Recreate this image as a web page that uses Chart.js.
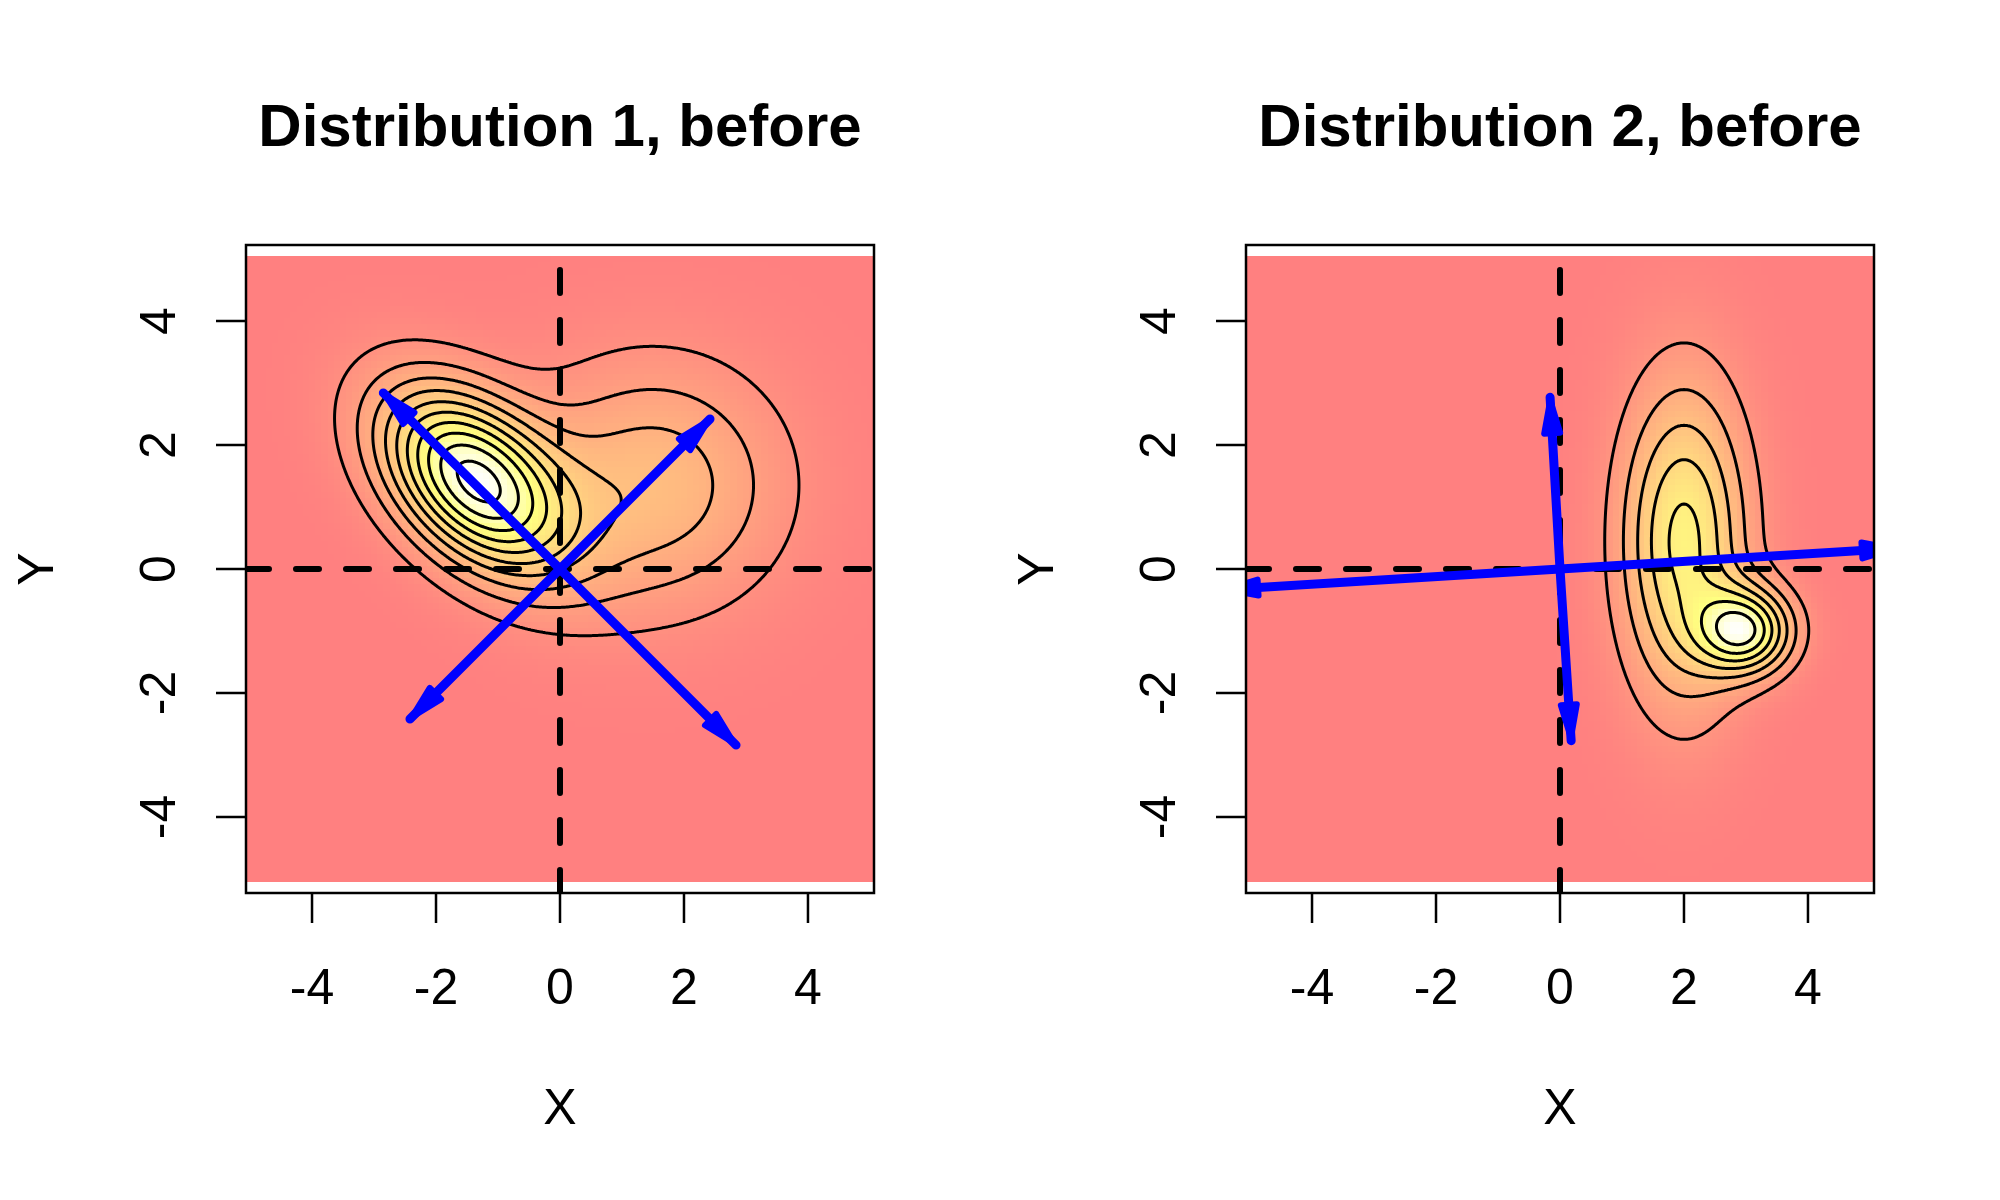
<!DOCTYPE html>
<html><head><meta charset="utf-8">
<script src="https://cdn.jsdelivr.net/npm/chart.js@4.4.1/dist/chart.umd.min.js"></script>
<style>
html,body{margin:0;padding:0;background:#fff;}
#wrap{position:relative;width:2000px;height:1200px;background:#fff;}
.pane{position:absolute;top:0;width:1000px;height:1200px;}
</style></head><body>
<div id="wrap">
  <div class="pane" style="left:0"><canvas id="c1" width="1000" height="1200"></canvas></div>
  <div class="pane" style="left:1000px"><canvas id="c2" width="1000" height="1200"></canvas></div>
</div>
<script>
// ---------------- data ----------------
const titles = ["Distribution 1, before", "Distribution 2, before"];
const xAxisLabel = "X";
const yAxisLabel = "Y";
const xTicks = [-4, -2, 0, 2, 4];
const yTicks = [-4, -2, 0, 2, 4];
// Gaussian mixture components: [weight, meanX, meanY, sdX, sdY, rho]
const dist1Components = [
  [0.61, -1.40, 1.45, 1.042, 1.042, -0.44],
  [0.47,  1.50, 1.35, 1.45, 1.38,  0.00]
];
const dist2Components = [
  [0.816, 2.00,  0.45, 0.70, 1.75, 0.00],
  [0.196, 3.00, -1.00, 0.52, 0.48, 0.00]
];
const dist1Levels = [0.01,0.02,0.03,0.04,0.05,0.06,0.07,0.08,0.09,0.10];
const dist2Levels = [0.02,0.04,0.06,0.08,0.10,0.12,0.14];
// arrow tips (all arrows start at the origin)
const dist1ArrowTips = [[-2.85, 2.84], [2.84, -2.84], [2.42, 2.42], [-2.42, -2.42]];
const dist2ArrowTips = [[5.45, 0.334], [-5.45, -0.334], [-0.16, 2.77], [0.18, -2.77]];
// reference lines
const hLineY = [0];
const vLineX = [0];

// ---------------- helpers ----------------
const X_MIN = -5.065, X_MAX = 5.065, Y_MIN = -5.226, Y_MAX = 5.226;
const FONT = "'Liberation Sans', Arial, Helvetica, sans-serif";

function mixtureDensity(comps, x, y) {
  let s = 0;
  for (const [w, mx, my, sx, sy, r] of comps) {
    const dx = (x - mx) / sx, dy = (y - my) / sy;
    const q = (dx * dx - 2 * r * dx * dy + dy * dy) / (1 - r * r);
    s += w * Math.exp(-q / 2) / (2 * Math.PI * sx * sy * Math.sqrt(1 - r * r));
  }
  return s;
}

function hsvToRgb(h, s, v) {
  const i = Math.floor(h * 6), f = h * 6 - i;
  const p = v * (1 - s), q = v * (1 - f * s), t = v * (1 - (1 - f) * s);
  let r, g, b;
  switch (i % 6) {
    case 0: r = v; g = t; b = p; break;
    case 1: r = q; g = v; b = p; break;
    case 2: r = p; g = v; b = t; break;
    case 3: r = p; g = q; b = v; break;
    case 4: r = t; g = p; b = v; break;
    default: r = v; g = p; b = q;
  }
  return [r, g, b];
}
function heatColor(t) {
  t = Math.max(0, Math.min(1, t));
  let h, s;
  if (t < 0.75) { h = (t / 0.75) / 6; s = 1; }
  else { h = 1 / 6; s = 1 - (t - 0.75) / 0.25 * 0.97; }
  const [r, g, b] = hsvToRgb(h, s, 1);
  const R = Math.round(127.5 + 127.5 * r), G = Math.round(127.5 + 127.5 * g), B = Math.round(127.5 + 127.5 * b);
  return `rgb(${R},${G},${B})`;
}

function computeHeat(comps) {
  const xs = [], ys = [];
  for (let i = 0; i <= 100; i++) { xs.push(-5 + i * 0.1); ys.push(-5 + i * 0.1); }
  const z = [];
  let zmax = 0;
  for (let j = 0; j < ys.length; j++) {
    const row = [];
    for (let i = 0; i < xs.length; i++) {
      const v = mixtureDensity(comps, xs[i], ys[j]);
      row.push(v); if (v > zmax) zmax = v;
    }
    z.push(row);
  }
  return { xs, ys, z, zmax, half: 0.05 };
}

function computeContours(comps, levels) {
  const xs = [], ys = [];
  const n = 405;
  for (let i = 0; i < n; i++) { xs.push(-5.05 + i * 0.025); ys.push(-5.05 + i * 0.025); }
  const z = [];
  for (let j = 0; j < n; j++) {
    const row = new Float64Array(n);
    for (let i = 0; i < n; i++) row[i] = mixtureDensity(comps, xs[i], ys[j]);
    z.push(row);
  }
  const segs = [];
  for (const level of levels) {
    for (let j = 0; j < n - 1; j++) {
      for (let i = 0; i < n - 1; i++) {
        const z00 = z[j][i], z10 = z[j][i + 1], z11 = z[j + 1][i + 1], z01 = z[j + 1][i];
        const idx = (z00 > level ? 1 : 0) | (z10 > level ? 2 : 0) | (z11 > level ? 4 : 0) | (z01 > level ? 8 : 0);
        if (idx === 0 || idx === 15) continue;
        const x0 = xs[i], x1 = xs[i + 1], y0 = ys[j], y1 = ys[j + 1];
        const E = (k) => {
          if (k === 0) return [x0 + (level - z00) / (z10 - z00) * (x1 - x0), y0];
          if (k === 1) return [x1, y0 + (level - z10) / (z11 - z10) * (y1 - y0)];
          if (k === 2) return [x0 + (level - z01) / (z11 - z01) * (x1 - x0), y1];
          return [x0, y0 + (level - z00) / (z01 - z00) * (y1 - y0)];
        };
        let pairs;
        const c = (z00 + z10 + z11 + z01) / 4;
        switch (idx) {
          case 1: case 14: pairs = [[3, 0]]; break;
          case 2: case 13: pairs = [[0, 1]]; break;
          case 3: case 12: pairs = [[3, 1]]; break;
          case 4: case 11: pairs = [[1, 2]]; break;
          case 6: case 9: pairs = [[0, 2]]; break;
          case 7: case 8: pairs = [[3, 2]]; break;
          case 5: pairs = c > level ? [[0, 1], [2, 3]] : [[3, 0], [1, 2]]; break;
          case 10: pairs = c > level ? [[3, 0], [1, 2]] : [[0, 1], [2, 3]]; break;
        }
        for (const [a, b] of pairs) segs.push([E(a), E(b)]);
      }
    }
  }
  return segs;
}

function makePanel(canvasId, title, comps, levels, tips) {
  const heat = computeHeat(comps);
  const segs = computeContours(comps, levels);

  const datasets = [];
  tips.forEach((t) => {
    datasets.push({
      data: [{ x: 0, y: 0 }, { x: t[0], y: t[1] }],
      showLine: true, borderColor: '#0000FF', borderWidth: 9, borderCapStyle: 'round',
      pointRadius: 0, clip: 0, order: 0, arrow: true
    });
  });
  hLineY.forEach((v) => datasets.push({
    data: [{ x: X_MIN, y: v }, { x: X_MAX, y: v }],
    showLine: true, borderColor: '#000', borderWidth: 6, borderDash: [23, 27], borderCapStyle: 'round',
    pointRadius: 0, clip: 0, order: 1
  }));
  vLineX.forEach((v) => datasets.push({
    data: [{ x: v, y: Y_MIN }, { x: v, y: Y_MAX }],
    showLine: true, borderColor: '#000', borderWidth: 6, borderDash: [23, 27], borderCapStyle: 'round',
    pointRadius: 0, clip: 0, order: 1
  }));

  const panelPlugin = {
    id: 'panel' + canvasId,
    beforeDatasetsDraw(chart) {
      const { ctx, chartArea: ca } = chart;
      const xs = chart.scales.x, ys = chart.scales.y;
      ctx.save();
      ctx.beginPath(); ctx.rect(ca.left, ca.top, ca.right - ca.left, ca.bottom - ca.top); ctx.clip();
      const ex = heat.xs.map(v => Math.round(xs.getPixelForValue(v - heat.half)));
      ex.push(Math.round(xs.getPixelForValue(heat.xs[heat.xs.length - 1] + heat.half)));
      const ey = heat.ys.map(v => Math.round(ys.getPixelForValue(v - heat.half)));
      ey.push(Math.round(ys.getPixelForValue(heat.ys[heat.ys.length - 1] + heat.half)));
      for (let j = 0; j < heat.ys.length; j++) {
        for (let i = 0; i < heat.xs.length; i++) {
          ctx.fillStyle = heatColor(heat.z[j][i] / heat.zmax);
          ctx.fillRect(ex[i], ey[j + 1], ex[i + 1] - ex[i], ey[j] - ey[j + 1]);
        }
      }
      ctx.strokeStyle = '#000'; ctx.lineWidth = 3; ctx.lineCap = 'round'; ctx.lineJoin = 'round';
      ctx.beginPath();
      for (const [a, b] of segs) {
        ctx.moveTo(xs.getPixelForValue(a[0]), ys.getPixelForValue(a[1]));
        ctx.lineTo(xs.getPixelForValue(b[0]), ys.getPixelForValue(b[1]));
      }
      ctx.stroke();
      ctx.restore();
    },
    afterDatasetsDraw(chart) {
      const { ctx, chartArea: ca } = chart;
      const xs = chart.scales.x, ys = chart.scales.y;
      ctx.save();
      ctx.beginPath(); ctx.rect(ca.left, ca.top, ca.right - ca.left, ca.bottom - ca.top); ctx.clip();
      chart.data.datasets.forEach((ds) => {
        if (!ds.arrow) return;
        const p0 = ds.data[0], p1 = ds.data[1];
        const x0 = xs.getPixelForValue(p0.x), y0 = ys.getPixelForValue(p0.y);
        const x1 = xs.getPixelForValue(p1.x), y1 = ys.getPixelForValue(p1.y);
        const L = Math.hypot(x1 - x0, y1 - y0);
        const ux = (x1 - x0) / L, uy = (y1 - y0) / L;
        const tx = x1 - 3 * ux, ty = y1 - 3 * uy;
        const bx = tx - 33 * ux, by = ty - 33 * uy;
        const hw = 8;
        ctx.fillStyle = '#0000FF'; ctx.strokeStyle = '#0000FF';
        ctx.lineWidth = 6; ctx.lineJoin = 'round';
        ctx.beginPath();
        ctx.moveTo(tx, ty);
        ctx.lineTo(bx - uy * hw, by + ux * hw);
        ctx.lineTo(bx + uy * hw, by - ux * hw);
        ctx.closePath();
        ctx.fill(); ctx.stroke();
      });
      ctx.restore();
    },
    afterDraw(chart) {
      const { ctx, chartArea: ca } = chart;
      const xs = chart.scales.x, ys = chart.scales.y;
      ctx.save();
      ctx.strokeStyle = '#000'; ctx.lineWidth = 2.5; ctx.lineCap = 'butt';
      ctx.strokeRect(ca.left, ca.top, ca.right - ca.left, ca.bottom - ca.top);
      ctx.beginPath();
      xTicks.forEach(v => { const px = xs.getPixelForValue(v); ctx.moveTo(px, ca.bottom); ctx.lineTo(px, ca.bottom + 30); });
      yTicks.forEach(v => { const py = ys.getPixelForValue(v); ctx.moveTo(ca.left, py); ctx.lineTo(ca.left - 30, py); });
      ctx.stroke();
      ctx.fillStyle = '#000';
      ctx.font = `50px ${FONT}`;
      ctx.textAlign = 'center'; ctx.textBaseline = 'alphabetic';
      xTicks.forEach(v => ctx.fillText(String(v), xs.getPixelForValue(v), ca.bottom + 111));
      yTicks.forEach(v => {
        ctx.save();
        ctx.translate(ca.left - 71, ys.getPixelForValue(v));
        ctx.rotate(-Math.PI / 2);
        ctx.fillText(String(v), 0, 0);
        ctx.restore();
      });
      const cx = (ca.left + ca.right) / 2, cy = (ca.top + ca.bottom) / 2;
      ctx.fillText(xAxisLabel, cx, ca.bottom + 231);
      ctx.save();
      ctx.translate(ca.left - 193, cy);
      ctx.rotate(-Math.PI / 2);
      ctx.fillText(yAxisLabel, 0, 0);
      ctx.restore();
      ctx.font = `bold 60px ${FONT}`;
      ctx.fillText(title, cx, ca.top - 99);
      ctx.restore();
    }
  };

  return new Chart(document.getElementById(canvasId), {
    type: 'scatter',
    data: { datasets },
    options: {
      responsive: false, animation: false, events: [],
      layout: { padding: { left: 246, top: 245, right: 126, bottom: 307 } },
      scales: {
        x: { type: 'linear', min: X_MIN, max: X_MAX, display: false },
        y: { type: 'linear', min: Y_MIN, max: Y_MAX, display: false }
      },
      plugins: { legend: { display: false }, tooltip: { enabled: false }, title: { display: false } }
    },
    plugins: [panelPlugin]
  });
}

makePanel('c1', titles[0], dist1Components, dist1Levels, dist1ArrowTips);
makePanel('c2', titles[1], dist2Components, dist2Levels, dist2ArrowTips);
</script>
</body></html>
